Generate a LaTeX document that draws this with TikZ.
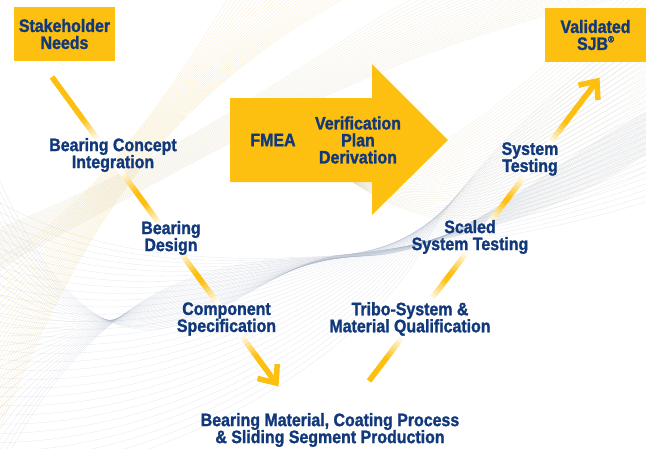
\documentclass[tikz,border=0pt]{standalone}
\usepackage{fontspec}
\setmainfont{Liberation Sans}[FakeStretch=0.885, BoldFeatures={FakeBold=1.4}]
\usetikzlibrary{calc}

\definecolor{sjbyellow}{HTML}{FDC010}
\definecolor{sjbnavy}{HTML}{10387A}
\definecolor{meshgrey}{HTML}{A9B3C5}
\definecolor{meshyellow}{HTML}{EDD083}
\definecolor{meshbeige}{HTML}{DCD3B2}

% a thick yellow line that fades to white where it runs under a label
% #1 start, #2 end, #3 length, #4 list of white zones (distance along the line)
\newcommand\fadeline[4]{%
  \foreach \k in {0,...,99}{%
    \pgfmathsetmacro\ta{\k/100}%
    \pgfmathsetmacro\tb{min(1,(\k+1.3)/100)}%
    \pgfmathsetmacro\sm{(\k+0.5)/100*#3}%
    \xdef\inten{100}%
    \foreach \za/\zb in {#4}{%
      \pgfmathsetmacro\dd{max(0,\za-\sm,\sm-\zb)}%
      \pgfmathtruncatemacro\ii{min(\inten,100*min(1,\dd/26))}%
      \xdef\inten{\ii}%
    }%
    \draw[vline, draw=sjbyellow!\inten!white] ($(#1)!\ta!(#2)$) -- ($(#1)!\tb!(#2)$);
  }%
}

\tikzset{
  lbl/.style={text=sjbnavy, font=\bfseries\fontsize{18}{17}\selectfont, align=center, inner sep=0pt},
  box/.style={lbl, fill=sjbyellow, minimum width=101pt, minimum height=54pt},
  vline/.style={line width=5.5pt},
  vhead/.style={line width=5.5pt, draw=sjbyellow, line join=miter},
  gmesh/.style={draw=meshgrey, line width=0.3pt, opacity=0.32},
  ymesh/.style={draw=meshyellow, line width=0.3pt, opacity=0.42},
  bmesh/.style={draw=meshbeige, line width=0.3pt, opacity=0.45},
}

\begin{document}
\begin{tikzpicture}[x=1pt, y=-1pt]
\useasboundingbox (0,0) rectangle (646,448);
\begin{scope}
\clip (0,0) rectangle (646,448);
% grey ribbon from the lower left, gathered below the FMEA arrow
\foreach \i in {0,...,30}{
  \pgfmathsetmacro\s{\i/30}
  \draw[gmesh] (-5,{200+280*\s}) .. controls ({100+100*\s},{260+210*\s}) and ({220+160*\s},{262+68*\s}) .. ({330+90*\s},{256-4*\s})
      .. controls ({440+20*\s},{250-76*\s}) and (560,{230-150*\s}) .. (651,{200-180*\s});
}
% crossing strands of the same ribbon
\foreach \i in {0,...,28}{
  \pgfmathsetmacro\s{\i/28}
  \draw[gmesh] (-5,{170+310*\s}) .. controls (120,{460-230*\s}) and ({230+40*\s},{268-4*\s}) .. ({340+40*\s},{255})
      .. controls ({450+20*\s},{245}) and (560,{215-60*\s}) .. (651,{150-40*\s});
}
% yellow band, lower left to the top
\foreach \i in {0,...,26}{
  \pgfmathsetmacro\s{\i/26}
  \draw[ymesh] (-5,{260+180*\s}) .. controls (80,{220+10*\s}) and (160,{110-10*\s}) .. ({230+120*\s},-5);
}
% beige fan leaving the arrow towards the upper right
\foreach \i in {0,...,34}{
  \pgfmathsetmacro\s{\i/34}
  \draw[bmesh] (350,180) .. controls (450,{250-90*\s}) and (540,{220-150*\s}) .. (651,{170-200*\s});
}
% beige lines across the top
\foreach \i in {0,...,24}{
  \pgfmathsetmacro\s{\i/24}
  \draw[bmesh] (-5,{230+40*\s}) .. controls ({200+20*\s},150) and ({330+60*\s},40) .. ({420+220*\s},-5);
}
\end{scope}

% FMEA / verification plan arrow
\fill[sjbyellow] (230,98) -- (372,98) -- (372,64) -- (448,140) -- (372,215) -- (372,182) -- (230,182) -- cycle;
\node[lbl] (fmea) at (273,140) {FMEA};
\node[lbl] (vpd) at (358,140) {Verification\\Plan\\Derivation};

% start and end boxes
\node[box] (needs) at (64.5,34) {Stakeholder\\Needs};
\node[box] (valid) at (595.5,35) {Validated\\SJB\raisebox{0.42em}{\fontsize{9}{9}\selectfont ®}};

% left branch: decomposition
\coordinate (l0) at (52,77);
\coordinate (l1) at (276,383);
\fadeline{l0}{l1}{379}{78/117,183/217,280/320}
\draw[vhead] ($(l1)!19pt!40:(l0)$) -- (l1) -- ($(l1)!19pt!-40:(l0)$);

% right branch: verification
\coordinate (r0) at (369,381);
\coordinate (r1) at (597,81);
\fadeline{r0}{r1}{377}{55/102,162/200,257/299}
\draw[vhead] ($(r1)!19pt!40:(r0)$) -- (r1) -- ($(r1)!19pt!-40:(r0)$);

% labels along the V
\node[lbl] (bci) at (113,155) {Bearing Concept\\Integration};
\node[lbl] (bd) at (171,238) {Bearing\\Design};
\node[lbl] (cs) at (226.5,319) {Component\\Specification};
\node[lbl] (prod) at (330,430) {Bearing Material, Coating Process\\\& Sliding Segment Production};
\node[lbl] (tribo) at (410,319) {Tribo-System \&\\Material Qualification};
\node[lbl] (sst) at (470,237) {Scaled\\System Testing};
\node[lbl] (st) at (530,159) {System\\Testing};
\end{tikzpicture}
\end{document}
